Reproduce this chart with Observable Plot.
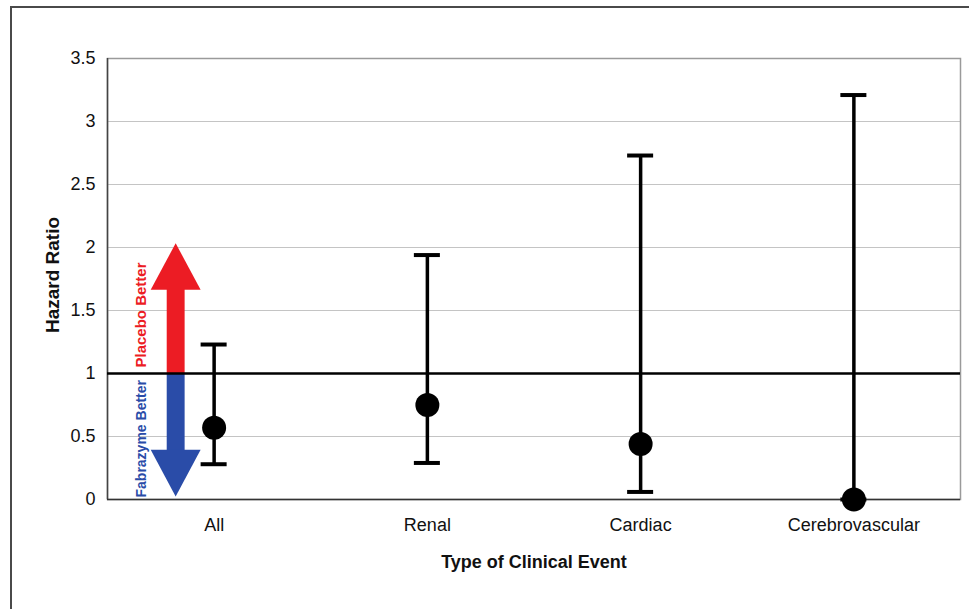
<!DOCTYPE html>
<html>
<head>
<meta charset="utf-8">
<script src="https://cdn.jsdelivr.net/npm/d3@7"></script>
<script src="https://cdn.jsdelivr.net/npm/@observablehq/plot@0.6"></script>
<style>
  html, body { margin: 0; padding: 0; background: #fff; }
  #wrap { position: relative; width: 969px; height: 609px; overflow: hidden; }
  #border { position: absolute; left: 10px; top: 6px; width: 1000px; height: 700px; border: 2px solid #4a4a4a; box-sizing: border-box; }
  #chart { position: absolute; left: 0; top: 0; }
</style>
</head>
<body>
<div id="wrap"><div id="border"></div><div id="chart"></div></div>
<script>
// ---- data ----
const categories = ["All", "Renal", "Cardiac", "Cerebrovascular"];
const hazardRatio = [0.57, 0.75, 0.44, 0.0];
const lowerCI = [0.28, 0.29, 0.06, 0.0];
const upperCI = [1.23, 1.94, 2.73, 3.21];
const yTicks = [0, 0.5, 1, 1.5, 2, 2.5, 3, 3.5];
const referenceHR = [1];
const placeboArrow = {from: 1, to: 2.03};     // "Placebo Better" arrow extent (HR)
const fabrazymeArrow = {from: 1, to: 0.02};   // "Fabrazyme Better" arrow extent (HR)
const labelPlacebo = "Placebo Better";
const labelFabrazyme = "Fabrazyme Better";
const xTitle = "Type of Clinical Event";
const yTitle = "Hazard Ratio";

const rows = categories.map((c, i) => ({i, c, hr: hazardRatio[i], lo: lowerCI[i], hi: upperCI[i]}));

// arrow geometry (x in band units left of "All")
const ac = -0.178, headHalf = 0.117, shaftHalf = 0.042, headLen = 0.37;
const red = "#ec1c24", blue = "#2a4ca8";
const upBase = placeboArrow.to - headLen;
const downBase = fabrazymeArrow.to + headLen;
const capHalf = 0.061;

const chart = Plot.plot({
  width: 969,
  height: 609,
  marginLeft: 107,
  marginRight: 9,
  marginTop: 58,
  marginBottom: 110,
  x: {domain: [-0.5, 3.5]},
  y: {domain: [0, 3.5]},
  style: {fontFamily: "'Liberation Sans', Arial, sans-serif", background: "transparent", color: "#111"},
  marks: [
    Plot.gridY(yTicks.filter(v => v > 0 && v < 3.5), {stroke: "#c4c4c4", strokeOpacity: 1}),
    Plot.frame({stroke: "#9a9a9a", strokeWidth: 1.5}),
    Plot.ruleX([-0.5], {stroke: "#444", strokeWidth: 1.5}),
    Plot.ruleY([0], {stroke: "#333", strokeWidth: 1.5}),
    Plot.axisY({ticks: yTicks, tickFormat: d => String(d), tickSize: 0, tickPadding: 12, fontSize: 18, label: null}),
    Plot.axisX({ticks: rows.map(d => d.i), tickFormat: i => categories[i], tickSize: 0, tickPadding: 19, fontSize: 18, label: null}),
    // direction arrows
    Plot.rect([placeboArrow], {x1: ac - shaftHalf, x2: ac + shaftHalf, y1: d => d.from, y2: upBase + 0.02, fill: red}),
    Plot.areaY([{x: ac - headHalf, y: upBase}, {x: ac, y: placeboArrow.to}, {x: ac + headHalf, y: upBase}],
      {x: "x", y1: upBase, y2: "y", fill: red, curve: "linear"}),
    Plot.rect([fabrazymeArrow], {x1: ac - shaftHalf, x2: ac + shaftHalf, y1: d => d.from, y2: downBase - 0.02, fill: blue}),
    Plot.areaY([{x: ac - headHalf, y: downBase}, {x: ac, y: fabrazymeArrow.to}, {x: ac + headHalf, y: downBase}],
      {x: "x", y1: downBase, y2: "y", fill: blue, curve: "linear"}),
    Plot.text([labelPlacebo], {x: -0.34, y: placeboArrow.from, text: d => d, rotate: -90, textAnchor: "start", dy: -6,
      fill: red, fontWeight: "bold", fontSize: 15}),
    Plot.text([labelFabrazyme], {x: -0.34, y: 0, text: d => d, rotate: -90, textAnchor: "start", dy: -2,
      fill: blue, fontWeight: "bold", fontSize: 14}),
    // reference line
    Plot.ruleY(referenceHR, {stroke: "#000", strokeWidth: 2.5}),
    // error bars
    Plot.ruleX(rows, {x: "i", y1: "lo", y2: "hi", stroke: "#000", strokeWidth: 3.5}),
    Plot.ruleY(rows, {y: "hi", x1: d => d.i - capHalf, x2: d => d.i + capHalf, stroke: "#000", strokeWidth: 4}),
    Plot.ruleY(rows, {y: "lo", x1: d => d.i - capHalf, x2: d => d.i + capHalf, stroke: "#000", strokeWidth: 4}),
    Plot.dot(rows, {x: "i", y: "hr", r: 12, fill: "#000"}),
    // axis titles
    Plot.text([yTitle], {frameAnchor: "left", textAnchor: "middle", lineAnchor: "middle", dx: -55, dy: -4, rotate: -90,
      text: d => d, fontWeight: "bold", fontSize: 19, fill: "#111"}),
    Plot.text([xTitle], {frameAnchor: "bottom", lineAnchor: "bottom", dy: 68, text: d => d, fontWeight: "bold", fontSize: 18, fill: "#111"})
  ]
});
document.getElementById("chart").appendChild(chart);
</script>
</body>
</html>
